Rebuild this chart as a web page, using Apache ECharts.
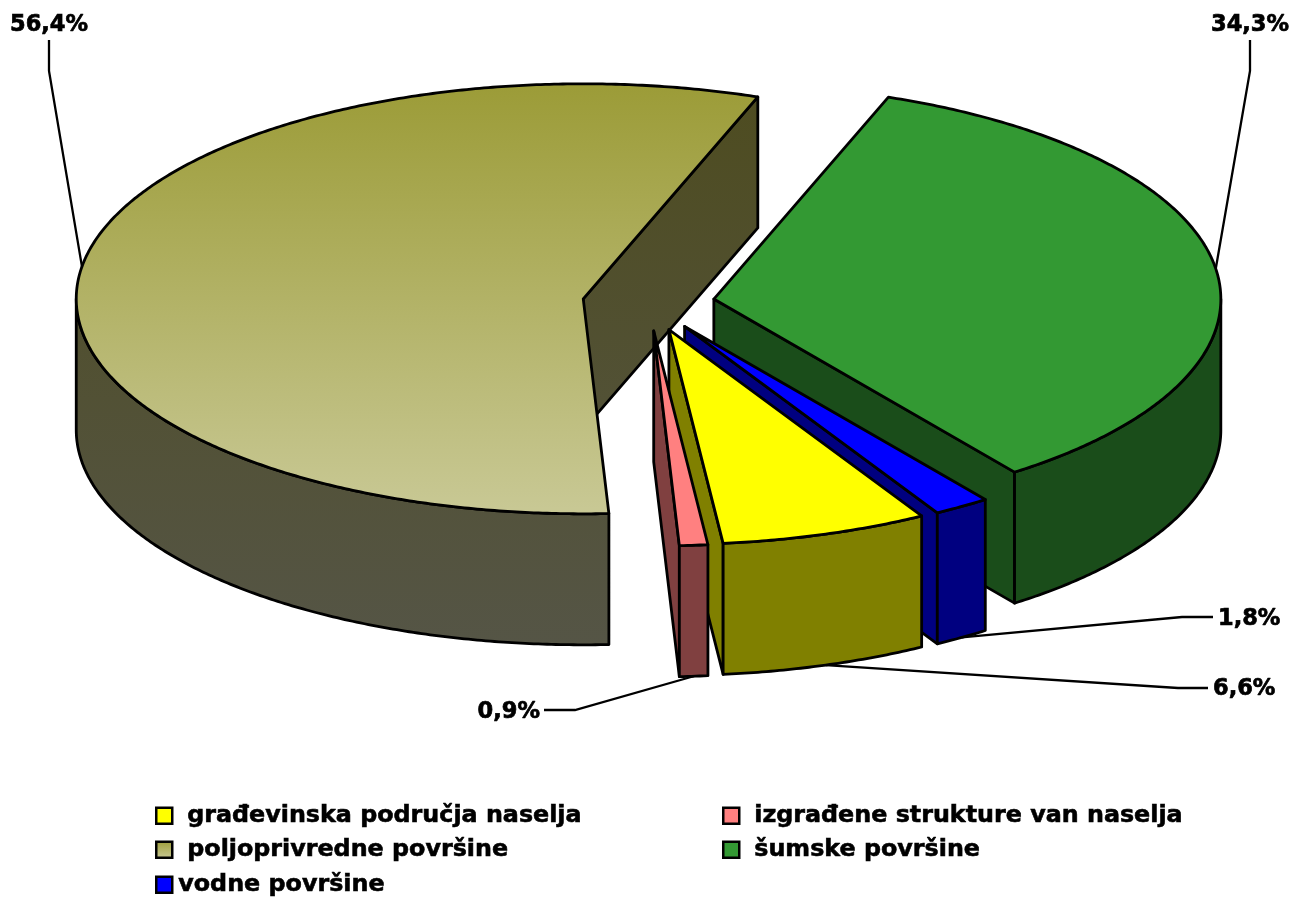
<!DOCTYPE html>
<html>
<head>
<meta charset="utf-8">
<title>Pie 3D</title>
<style>html, body {margin: 0; padding: 0; background: #fff;} #chart {width: 1305px; height: 898px;}</style>
<script src="https://cdn.jsdelivr.net/npm/echarts@6/dist/echarts.min.js"></script>
</head>
<body>
<div id="chart"></div>
<script>
// data, legend order = clockwise order of the slices
const categories = ['građevinska područja naselja', 'izgrađene strukture van naselja', 'poljoprivredne površine', 'šumske površine', 'vodne površine'];
const values = [6.6, 0.9, 56.4, 34.3, 1.8];

// colours
const topColors = ['#ffff00', '#ff8080', ['#9c9c38', '#c9c996'], '#339933', '#0000ff'];
const sideColors = ['#808000', '#804040', ['#4e4c20', '#555546'], '#1a4d1a', '#000080'];

// the pie as a tilted disc
const CX = 648.5, CY = 303, RX = 507, RY = 215, DEPTH = 131, EXPLODE = 66, START = 150.1;

// label placement: elbow of the leader, end of the leader, label anchor and alignment
const leaderElbows = [[1178, 688], [575, 710], [49, 71], [1250, 71], [1182, 617]];
const leaderEnds = [[1208, 688], [544, 710], [49, 40], [1250, 40], [1213, 617]];
const labelAnchors = [[1213, 689, 'left'], [540, 712, 'right'], [49, 25, 'center'], [1250, 25, 'center'], [1218, 619, 'left']];
const legendSpots = [[154, 803.5, 10], [721, 803.5, 10], [154, 837.5, 10], [721, 837.5, 10], [154, 872.5, 1]];

const FONT = '"DejaVu Sans", Verdana, sans-serif';
const rad = deg => deg * Math.PI / 180;
const total = values.reduce((a, b) => a + b, 0);

let running = START;
const slices = values.map(value => {
    const a0 = running;
    const a1 = running + value / total * 360;
    running = a1;
    const mid = (a0 + a1) / 2;
    return {
        a0, a1, mid,
        cx: CX + EXPLODE * Math.sin(rad(mid)),
        cy: CY - EXPLODE * RY / RX * Math.cos(rad(mid))
    };
});
// farther slices are painted first
const paintRank = slices.map((s, i) => i).sort((a, b) => slices[a].cy - slices[b].cy);

function rimPoint(s, angle, drop) {
    return [s.cx + RX * Math.sin(rad(angle)), s.cy - RY * Math.cos(rad(angle)) + drop];
}

function arc(s, from, to, drop) {
    const steps = Math.max(2, Math.ceil((to - from) / 0.5));
    const points = [];
    for (let i = 0; i <= steps; i++)
        points.push(rimPoint(s, from + (to - from) * i / steps, drop));
    return points;
}

function paint(color, y0, y1) {
    if (typeof color === 'string')
        return color;
    return new echarts.graphic.LinearGradient(0, y0, 0, y1, [
        {offset: 0, color: color[0]},
        {offset: 1, color: color[1]}
    ], true);
}

function renderSlice(index) {
    const s = slices[index];
    const base = 10 + paintRank.indexOf(index) * 4;
    const children = [];
    const face = (points, fill, z2) => children.push({
        type: 'polygon',
        z2,
        shape: {points},
        style: {fill, stroke: '#000', lineWidth: 2.8, lineJoin: 'round'}
    });
    const centre = [s.cx, s.cy];
    const centreLow = [s.cx, s.cy + DEPTH];
    const side = paint(sideColors[index], CY - RY, CY + RY + DEPTH);

    // straight walls, only those turned to the viewer
    [[s.a0, -1], [s.a1, 1]].forEach(([angle, sign]) => {
        if (sign * Math.sin(rad(angle)) > 0)
            face([centre, rimPoint(s, angle, 0), rimPoint(s, angle, DEPTH), centreLow], side, base);
    });

    // front part of the outer rim
    for (let k = 0; k < 2; k++) {
        const from = Math.max(s.a0, 90 + 360 * k);
        const to = Math.min(s.a1, 270 + 360 * k);
        if (from < to)
            face(arc(s, from, to, 0).concat(arc(s, from, to, DEPTH).reverse()), side, base + 1);
    }

    // top
    face([centre].concat(arc(s, s.a0, s.a1, 0)), paint(topColors[index], CY - RY, CY + RY), base + 2);

    // leader and value label
    const front = Math.cos(rad(s.mid)) < 0;
    children.push({
        type: 'polyline',
        z2: 1,
        shape: {points: [rimPoint(s, s.mid, front ? DEPTH : 0), leaderElbows[index], leaderEnds[index]]},
        style: {fill: 'none', stroke: '#000', lineWidth: 2.3}
    });
    const anchor = labelAnchors[index];
    children.push({
        type: 'text',
        z2: 100,
        style: {
            x: anchor[0],
            y: anchor[1],
            text: values[index].toFixed(1).replace('.', ',') + '%',
            align: anchor[2],
            verticalAlign: 'middle',
            font: 'bold 22.5px ' + FONT,
            fill: '#000',
            stroke: '#000',
            lineWidth: 0.7
        }
    });
    return {type: 'group', children};
}

const chart = echarts.init(document.getElementById('chart'));
chart.setOption({
    animation: false,
    backgroundColor: '#fff',
    legend: categories.map((name, i) => ({
        left: legendSpots[i][0] + 1,
        top: legendSpots[i][1],
        padding: 0,
        orient: 'horizontal',
        selectedMode: false,
        itemWidth: 16,
        itemHeight: 16,
        data: [{
            name,
            icon: 'rect',
            itemStyle: {
                color: Array.isArray(topColors[i])
                    ? new echarts.graphic.LinearGradient(0, 0, 0, 1, [{offset: 0, color: topColors[i][0]}, {offset: 1, color: topColors[i][1]}])
                    : topColors[i],
                borderColor: '#000',
                borderWidth: 2.5
            }
        }],
        textStyle: {
            fontFamily: FONT,
            fontWeight: 'bold',
            fontSize: 23.8,
            color: '#000',
            textBorderColor: '#000',
            textBorderWidth: 0.6,
            padding: [0, 0, 0, legendSpots[i][2]]
        }
    })),
    series: categories.map((name, i) => ({
        type: 'custom',
        name,
        coordinateSystem: 'none',
        silent: true,
        itemStyle: {color: Array.isArray(topColors[i]) ? topColors[i][0] : topColors[i]},
        data: [values[i]],
        renderItem: () => renderSlice(i)
    }))
});
</script>
</body>
</html>
